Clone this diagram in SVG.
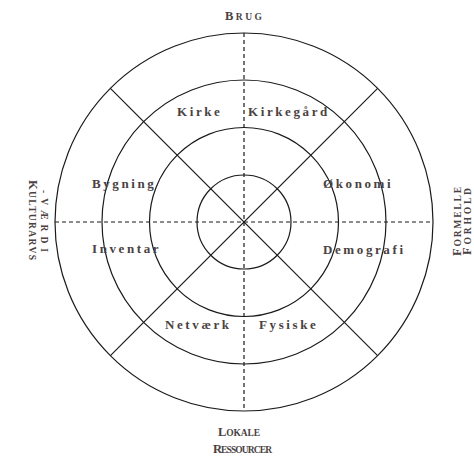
<svg xmlns="http://www.w3.org/2000/svg" width="474" height="458" viewBox="0 0 474 458">
<style>
.c{fill:none;stroke:#1a1a1a;stroke-width:1.2}
.d{stroke:#1a1a1a;stroke-width:1.2;stroke-dasharray:4 3}
.s{stroke:#1a1a1a;stroke-width:1.2}
.t{font-family:"Liberation Serif",serif;font-weight:bold;font-size:13px;letter-spacing:2.6px;fill:#4a4242}
.o{font-family:"Liberation Serif",serif;font-weight:bold;fill:#4a4242;font-size:9.5px}
.b{font-size:12.5px}
</style>
<rect width="474" height="458" fill="#fff"/>
<g id="rings">
<circle class="c" cx="244" cy="222" r="189"/>
<circle class="c" cx="244" cy="222" r="142"/>
<circle class="c" cx="244" cy="222" r="94.5"/>
<circle class="c" cx="244" cy="222" r="47"/>
</g>
<g id="connectors">
<line class="d" x1="55" y1="222" x2="433" y2="222"/>
<line class="d" x1="244" y1="33" x2="244" y2="411"/>
<line class="s" x1="110.4" y1="88.4" x2="377.6" y2="355.6"/>
<line class="s" x1="377.6" y1="88.4" x2="110.4" y2="355.6"/>
</g>
<g id="n-kirke"><text class="t" x="177" y="116">Kirke</text></g>
<g id="n-kirkegaard"><text class="t" x="248" y="116">Kirkegård</text></g>
<g id="n-bygning"><text class="t" x="92" y="188">Bygning</text></g>
<g id="n-okonomi"><text class="t" x="323" y="188">Økonomi</text></g>
<g id="n-inventar"><text class="t" x="92" y="253">Inventar</text></g>
<g id="n-demografi"><text class="t" x="323" y="254">Demografi</text></g>
<g id="n-netvaerk"><text class="t" x="165" y="329">Netværk</text></g>
<g id="n-fysiske"><text class="t" x="259" y="329">Fysiske</text></g>
<g id="l-brug"><text class="o" x="225" y="20" textLength="37" lengthAdjust="spacing"><tspan class="b">B</tspan>RUG</text></g>
<g id="l-lokale">
<text class="o" x="218" y="436" textLength="42" lengthAdjust="spacing"><tspan class="b">L</tspan>OKALE</text>
<text class="o" x="213" y="453" textLength="59" lengthAdjust="spacing"><tspan class="b">R</tspan>ESSOURCER</text>
</g>
<g id="l-kultur">
<text class="o" transform="translate(29,180) rotate(90)" textLength="80" lengthAdjust="spacing"><tspan class="b">K</tspan>ULTURARVS</text>
<text class="o" transform="translate(41,190) rotate(90)" textLength="62" lengthAdjust="spacing">-VÆRDI</text>
</g>
<g id="l-formelle">
<text class="o" transform="translate(461,256) rotate(-90)" textLength="69" lengthAdjust="spacing"><tspan class="b">F</tspan>ORMELLE</text>
<text class="o" transform="translate(471,255) rotate(-90)" textLength="67" lengthAdjust="spacing"><tspan class="b">F</tspan>ORHOLD</text>
</g>
</svg>
